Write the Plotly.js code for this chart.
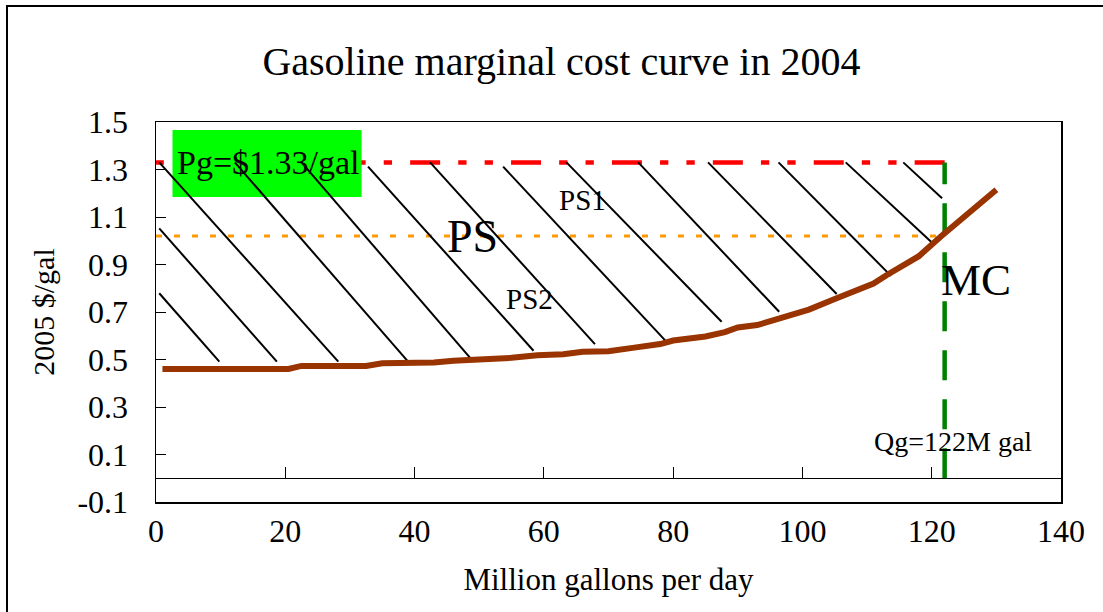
<!DOCTYPE html>
<html>
<head>
<meta charset="utf-8">
<script src="https://cdn.plot.ly/plotly-3.0.1.min.js"></script>
<style>
  html, body { margin: 0; padding: 0; background: #ffffff; }
  #wrap { position: relative; width: 1103px; height: 612px; overflow: hidden; }
  #chart { width: 1103px; height: 612px; }
  #frame { position: absolute; left: 6px; top: 5px; width: 1200px; height: 700px;
           border-top: 2px solid #000; border-left: 2px solid #000; pointer-events: none; }
</style>
</head>
<body>
<div id="wrap"><div id="chart"></div><div id="frame"></div></div>
<script>
// ---- data ----
const mcX = [1, 20.5, 22.5, 32.5, 35, 43, 46, 49, 55, 59, 63, 66, 70, 74, 78, 80, 85, 88, 90, 93, 95.5, 98, 101, 105, 108, 111, 113, 116, 118, 121.5, 126, 130];
const mcY = [0.46, 0.46, 0.473, 0.473, 0.484, 0.487, 0.495, 0.497, 0.507, 0.518, 0.522, 0.533, 0.535, 0.55, 0.565, 0.58, 0.597, 0.615, 0.635, 0.645, 0.667, 0.69, 0.71, 0.755, 0.785, 0.82, 0.855, 0.9, 0.935, 1.02, 1.12, 1.215];

const gasPrice = 1.33;      // Pg, $/gal
const gasQuantity = 122;    // Qg, M gal
const splitLevel = 1.02;    // dotted line dividing PS1 / PS2

// hatch strokes of the producer-surplus area (start / end points)
const hatchX0 = [0.5, 0.5, 0.5, 12.2, 22.5, 32.8, 42.4, 53.7, 63.5, 74.6, 85.4, 96.3, 106.7, 115.6];
const hatchY0 = [1.33, 1.052, 0.779, 1.33, 1.33, 1.312, 1.33, 1.312, 1.33, 1.33, 1.33, 1.33, 1.33, 1.33];
const hatchX1 = [28.2, 18.7, 9.8, 39.0, 49.1, 58.4, 67.9, 79.2, 87.5, 96.4, 105.3, 113.7, 119.9, 121.6];
const hatchY1 = [0.491, 0.491, 0.491, 0.491, 0.491, 0.537, 0.565, 0.568, 0.659, 0.701, 0.776, 0.852, 0.996, 1.179];

const xTickVals = [0, 20, 40, 60, 80, 100, 120, 140];
const yTickVals = [-0.1, 0.1, 0.3, 0.5, 0.7, 0.9, 1.1, 1.3, 1.5];
const yTickText = ['-0.1', '0.1', '0.3', '0.5', '0.7', '0.9', '1.1', '1.3', '1.5'];

// ---- build ----
const SERIF = 'Liberation Serif, "Times New Roman", serif';
const hx = [], hy = [];
for (let i = 0; i < hatchX0.length; i++) {
  hx.push(hatchX0[i], hatchX1[i], null);
  hy.push(hatchY0[i], hatchY1[i], null);
}
const box = { x0: 2.55, x1: 31.8, y0: 1.184, y1: 1.466 };

const traces = [
  { x: [0, gasQuantity], y: [splitLevel, splitLevel], mode: 'lines',
    line: { color: '#FF9900', width: 3, dash: '6px,12px' }, hoverinfo: 'skip' },
  { x: [gasQuantity, 0], y: [gasPrice, gasPrice], mode: 'lines',
    line: { color: '#FF0000', width: 4.5, dash: '30px,18.1px,8.3px,18.1px,8.3px,18.1px' }, hoverinfo: 'skip' },
  { x: [gasQuantity, gasQuantity], y: [0, gasPrice], mode: 'lines',
    line: { color: '#008000', width: 4.5, dash: '30px,19px' }, hoverinfo: 'skip' },
  { x: [box.x0, box.x1, box.x1, box.x0, box.x0], y: [box.y0, box.y0, box.y1, box.y1, box.y0],
    mode: 'lines', fill: 'toself', fillcolor: '#00FF00', line: { width: 0, color: '#00FF00' }, hoverinfo: 'skip' },
  { x: hx, y: hy, mode: 'lines', connectgaps: false,
    line: { color: '#000000', width: 2 }, hoverinfo: 'skip' },
  { x: mcX, y: mcY, mode: 'lines', name: 'MC',
    line: { color: '#993300', width: 6 } },
  { x: [0, 140], y: [0, 0], xaxis: 'x2', mode: 'lines', line: { width: 0 },
    opacity: 0, hoverinfo: 'skip' }
];

const layout = {
  width: 1103, height: 612,
  margin: { l: 156, r: 42, t: 122, b: 110 },
  paper_bgcolor: '#ffffff', plot_bgcolor: '#ffffff',
  showlegend: false,
  font: { family: SERIF, color: '#000000' },
  title: { text: 'Gasoline marginal cost curve in 2004', font: { family: SERIF, size: 40, color: '#000' },
           x: 0.509, xref: 'container', xanchor: 'center', y: 0.9, yref: 'container', yanchor: 'middle' },
  xaxis: {
    range: [0, 140], tickvals: xTickVals, ticks: '', showgrid: false, zeroline: false,
    showline: true, mirror: true, linecolor: '#000', linewidth: 1.5,
    tickfont: { family: SERIF, size: 32, color: '#000' }, ticklabelstandoff: 0,
    title: { text: 'Million gallons per day', font: { family: SERIF, size: 31, color: '#000' }, standoff: 20 }
  },
  xaxis2: {
    overlaying: 'x', anchor: 'free', position: 0.0625, side: 'bottom',
    range: [0, 140], tickvals: xTickVals, ticks: 'inside', ticklen: 11, tickwidth: 1, tickcolor: '#000',
    showticklabels: false, showgrid: false, zeroline: false,
    showline: true, linecolor: '#000', linewidth: 1
  },
  yaxis: {
    range: [-0.1, 1.5], tickvals: yTickVals, ticktext: yTickText,
    ticks: 'inside', ticklen: 10, tickwidth: 1, tickcolor: '#000',
    showgrid: false, zeroline: false,
    showline: true, mirror: true, linecolor: '#000', linewidth: 1.5,
    tickfont: { family: SERIF, size: 32, color: '#000' }, ticklabelstandoff: 20,
    title: { text: '2005 $/gal', font: { family: SERIF, size: 30, color: '#000' }, standoff: 14 }
  },
  annotations: [
    { x: 3.0, y: 1.33, xref: 'x', yref: 'y', xanchor: 'left', yanchor: 'middle', showarrow: false,
      text: 'Pg=$1.33/gal', font: { family: SERIF, size: 34, color: '#000' } },
    { x: 48.95, y: 1.02, xref: 'x', yref: 'y', xanchor: 'center', yanchor: 'middle', showarrow: false,
      text: 'PS', font: { family: SERIF, size: 46, color: '#000' } },
    { x: 65.9, y: 1.172, xref: 'x', yref: 'y', xanchor: 'center', yanchor: 'middle', showarrow: false,
      text: 'PS1', font: { family: SERIF, size: 29, color: '#000' } },
    { x: 57.85, y: 0.754, xref: 'x', yref: 'y', xanchor: 'center', yanchor: 'middle', showarrow: false,
      text: 'PS2', font: { family: SERIF, size: 29, color: '#000' } },
    { x: 121.2, y: 0.833, xref: 'x', yref: 'y', xanchor: 'left', yanchor: 'middle', showarrow: false,
      text: 'MC', font: { family: SERIF, size: 45, color: '#000' } },
    { x: 123.3, y: 0.153, xref: 'x', yref: 'y', xanchor: 'center', yanchor: 'middle', showarrow: false,
      text: 'Qg=122M gal', font: { family: SERIF, size: 28, color: '#000' } }
  ]
};

Plotly.newPlot('chart', traces, layout, { staticPlot: true, displayModeBar: false });
</script>
</body>
</html>
